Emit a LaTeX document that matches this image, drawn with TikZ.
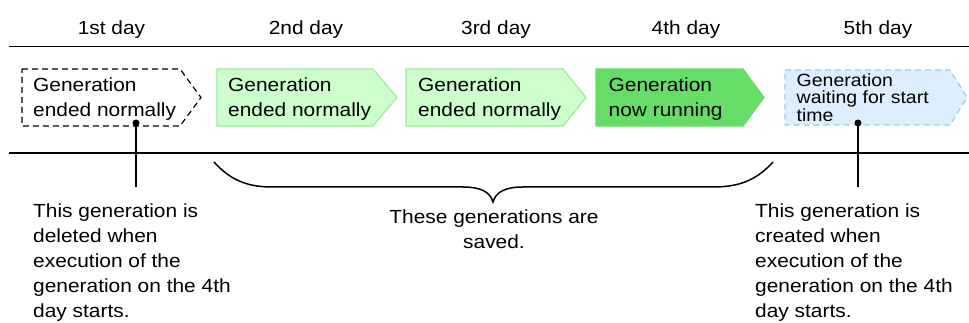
\documentclass[tikz,border=0pt]{standalone}
\usepackage{fontspec}
\setmainfont{Liberation Sans}[FakeStretch=1.1]
\definecolor{lgfill}{HTML}{CCFFCC}
\definecolor{lgline}{HTML}{99EE99}
\definecolor{dgfill}{HTML}{66DD66}
\definecolor{lbfill}{HTML}{DDEEFF}
\definecolor{lbline}{HTML}{99CCEE}
\begin{document}
\lineskiplimit=-100pt\relax
\begin{tikzpicture}[x=1pt,y=-1pt,
  lbl/.style={inner sep=0pt, anchor=north west, align=left, font=\fontsize{19}{25}\selectfont},
  smalllbl/.style={inner sep=0pt, anchor=north west, align=left, font=\fontsize{17.7}{17.5}\selectfont},
  daylbl/.style={inner sep=0pt, anchor=base, font=\fontsize{19}{25}\selectfont},
  rulel/.style={line width=1.8pt},
  conn/.style={line width=1.6pt},
  dotn/.style={circle, fill=black, inner sep=0pt, minimum size=7pt},
  genbox/.style={line width=1.2pt, line join=miter},
  brace/.style={line width=1.5pt}
]
\useasboundingbox (0,0) rectangle (969,323);
% day labels
\node[daylbl] (d1) at (111.5,34.5) {1st day};
\node[daylbl] (d2) at (306,34.5) {2nd day};
\node[daylbl] (d3) at (496,34.5) {3rd day};
\node[daylbl] (d4) at (686,34.5) {4th day};
\node[daylbl] (d5) at (878,34.5) {5th day};
% rules
\coordinate (tl) at (9,46.5); \coordinate (tr) at (969,46.5);
\coordinate (bl) at (9,153); \coordinate (br) at (969,153);
\draw[rulel] (tl) -- (tr);
\draw[rulel] (bl) -- (br);
% generation boxes
\draw[genbox, dash pattern=on 6pt off 4pt, fill=white] (22,69) -- (180,69) -- (201,97.5) -- (180,126) -- (22,126) -- cycle;
\draw[genbox, draw=lgline, fill=lgfill] (217,69) -- (373,69) -- (397,97.5) -- (373,126) -- (217,126) -- cycle;
\draw[genbox, draw=lgline, fill=lgfill] (406,69) -- (563,69) -- (586,97.5) -- (563,126) -- (406,126) -- cycle;
\draw[genbox, draw=dgfill, fill=dgfill] (596,69) -- (743,69) -- (764,97.5) -- (743,126) -- (596,126) -- cycle;
\draw[genbox, draw=lbline, fill=lbfill, dash pattern=on 6pt off 4pt] (785,70) -- (950,70) -- (967,97.5) -- (950,125) -- (785,125) -- cycle;
% box texts
\node[lbl] (g1) at (33,78) {Generation\\ended normally};
\node[lbl] (g2) at (228,78) {Generation\\ended normally};
\node[lbl] (g3) at (418,78) {Generation\\ended normally};
\node[lbl] (g4) at (608.5,78) {Generation\\now running};
\node[smalllbl] (g5) at (796.5,73) {Generation\\waiting for start\\time};
% connectors
\node[dotn] (p1) at (136,123) {};
\coordinate (q1) at (136,187);
\draw[conn] (p1.center) -- (q1);
\node[dotn] (p5) at (858,123) {};
\coordinate (q5) at (858,187);
\draw[conn] (p5.center) -- (q5);
% brace
\draw[brace] (214,162) .. controls (232,182) and (250,187) .. (273,187)
  -- (463,187) .. controls (481,187) and (490,192) .. (493,202)
  .. controls (496,192) and (505,187) .. (523,187)
  -- (713,187) .. controls (736,187) and (755,182) .. (773,162);
% notes
\node[lbl] (t1) at (33,204) {This generation is\\deleted when\\execution of the\\generation on the 4th\\day starts.};
\node[lbl, anchor=north, align=center] (t2) at (494,209.5) {These generations are\\saved.};
\node[lbl] (t5) at (755,204) {This generation is\\created when\\execution of the\\generation on the 4th\\day starts.};
\end{tikzpicture}
\end{document}
